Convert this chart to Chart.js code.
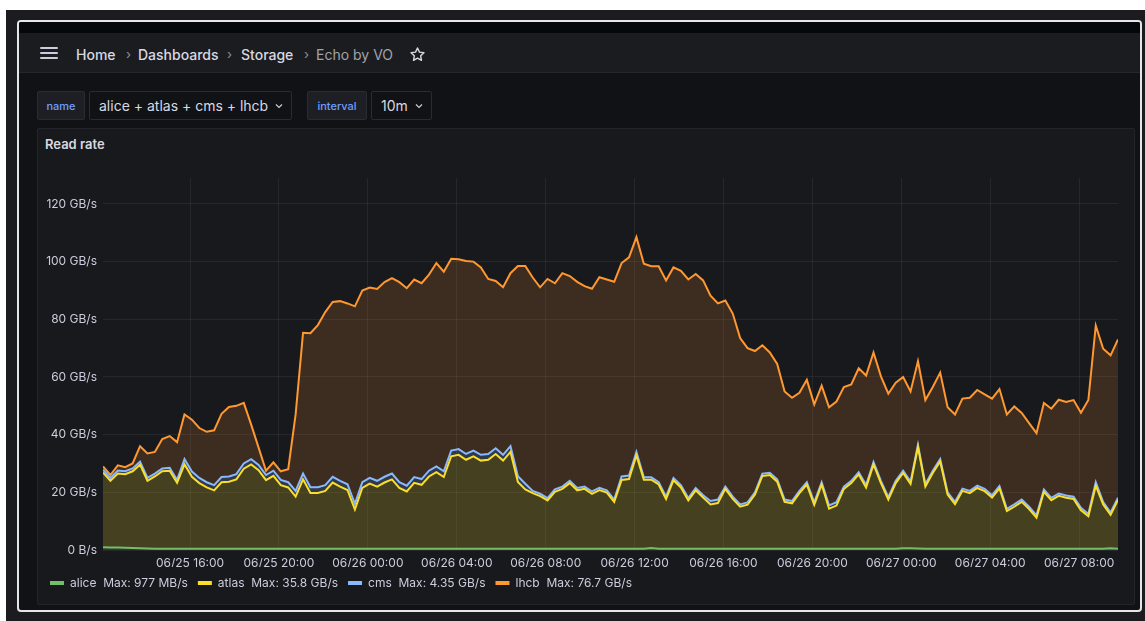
<!DOCTYPE html>
<html>
<head>
<meta charset="utf-8">
<script src="https://cdn.jsdelivr.net/npm/chart.js@4.4.1/dist/chart.umd.min.js"></script>
<style>
  body { margin: 0; width: 1145px; height: 621px; overflow: hidden; background: #fff; font-family: Inter, "Noto Sans", sans-serif; }
  .outer { position: absolute; left: 6px; top: 10px; right: 0; bottom: 0; background: #1c1c20; }
  .frame { position: absolute; left: 17px; top: 20px; width: 1121px; height: 588px; border: 2px solid #e6e6e6; border-radius: 4px; background: #111216; overflow: hidden; }
  .strip { position: absolute; left: 0; top: 0; right: 0; height: 11px; background: #060708; }
  .bar { position: absolute; left: 0; top: 11px; right: 0; height: 39px; background: #1b1c20; border-bottom: 1px solid #26272c; }
  .abs { position: absolute; }
  .crumb { position: absolute; top: 24px; font-size: 14px; color: #d8d9e0; font-weight: 500; }
  .sep { position: absolute; top: 24px; color: #8e8f98; font-size: 13px; }
  .dim { color: #a2a3ab; font-weight: 400; }
  .burger span { position: absolute; left: 0; width: 18px; height: 2px; background: #ccccdc; border-radius: 1px; }
  .var { position: absolute; top: 69px; height: 29px; border: 1px solid #2b2c31; border-radius: 2px; display: flex; align-items: center; box-sizing: border-box; }
  .lbl { background: #1e1f24; color: #6e9fff; font-size: 11px; font-weight: 500; justify-content: center; }
  .val { background: #111216; color: #d8d9e0; font-size: 14px; padding-left: 9px; }
  .panel { position: absolute; left: 18px; top: 106px; width: 1096px; height: 475px; background: #18191d; border: 1px solid #24252a; border-radius: 2px; }
  .title { position: absolute; left: 7px; top: 7px; font-size: 13px; font-weight: 600; color: #d8d9e0; }
  #wrap { position: absolute; left: 40px; top: 160px; width: 1090px; height: 439px; }
</style>
</head>
<body>
<div class="outer"></div>
<div class="frame">
  <div class="strip"></div>
  <div class="bar"></div>
  <div class="abs burger" style="left:21px;top:25px;width:18px;height:12px;">
    <span style="top:0"></span><span style="top:5px"></span><span style="top:10px"></span>
  </div>
  <div class="crumb" style="left:57px;">Home</div>
  <div class="sep" style="left:107px;">›</div>
  <div class="crumb" style="left:119px;">Dashboards</div>
  <div class="sep" style="left:208px;">›</div>
  <div class="crumb" style="left:222px;">Storage</div>
  <div class="sep" style="left:285px;">›</div>
  <div class="crumb dim" style="left:297px;">Echo by VO</div>
  <svg class="abs" style="left:390px;top:24px" width="17" height="17" viewBox="0 0 24 24">
    <path d="M12 2.8l2.8 5.8 6.3.9-4.6 4.4 1.1 6.3L12 17.2l-5.6 3 1.1-6.3-4.6-4.4 6.3-.9z" fill="none" stroke="#d8d9e0" stroke-width="2" stroke-linejoin="round"/>
  </svg>
  <div class="var lbl" style="left:18px;width:48px;">name</div>
  <div class="var val" style="left:70px;width:203px;">alice + atlas + cms + lhcb
    <svg style="margin-left:7px" width="8" height="6" viewBox="0 0 8 6"><path d="M1 1.5l3 3 3-3" fill="none" stroke="#ccccdc" stroke-width="1.2"/></svg></div>
  <div class="var lbl" style="left:288px;width:60px;">interval</div>
  <div class="var val" style="left:352px;width:61px;">10m
    <svg style="margin-left:7px" width="8" height="6" viewBox="0 0 8 6"><path d="M1 1.5l3 3 3-3" fill="none" stroke="#ccccdc" stroke-width="1.2"/></svg></div>
  <div class="panel"><div class="title">Read rate</div></div>
</div>
<div id="wrap"><canvas id="readRate"></canvas></div>

<script>
// 20 minute samples starting 06/25 12:05, values in GB/s
var stepMinutes = 20;
var seriesNames = ['alice', 'atlas', 'cms', 'lhcb'];
var legendMax = ['977 MB/s', '35.8 GB/s', '4.35 GB/s', '76.7 GB/s'];
var seriesColors = ['#73bf69', '#fade2a', '#8ab8ff', '#ff9830'];
var fillColors = ['rgba(115,191,105,0.2)', 'rgba(250,222,42,0.2)', 'rgba(138,184,255,0.2)', 'rgba(255,152,48,0.16)'];

var alice = [
  0.95, 0.9, 0.85, 0.8, 0.7, 0.6, 0.5, 0.4, 0.4, 0.4,
  0.4, 0.4, 0.4, 0.4, 0.4, 0.4, 0.4, 0.4, 0.4, 0.4,
  0.4, 0.4, 0.4, 0.4, 0.4, 0.4, 0.4, 0.4, 0.4, 0.4,
  0.4, 0.4, 0.4, 0.4, 0.4, 0.4, 0.4, 0.4, 0.4, 0.4,
  0.4, 0.4, 0.4, 0.4, 0.4, 0.4, 0.4, 0.4, 0.4, 0.4,
  0.4, 0.4, 0.4, 0.4, 0.4, 0.4, 0.4, 0.4, 0.4, 0.4,
  0.4, 0.4, 0.4, 0.4, 0.4, 0.4, 0.4, 0.4, 0.4, 0.4,
  0.4, 0.4, 0.4, 0.4, 0.7, 0.4, 0.4, 0.4, 0.4, 0.4,
  0.4, 0.4, 0.4, 0.4, 0.4, 0.4, 0.4, 0.4, 0.4, 0.4,
  0.4, 0.4, 0.4, 0.4, 0.4, 0.4, 0.4, 0.4, 0.4, 0.4,
  0.4, 0.4, 0.4, 0.4, 0.4, 0.4, 0.4, 0.4, 0.6, 0.6,
  0.5, 0.4, 0.4, 0.4, 0.4, 0.4, 0.4, 0.4, 0.4, 0.4,
  0.4, 0.4, 0.4, 0.4, 0.4, 0.4, 0.4, 0.4, 0.4, 0.4,
  0.4, 0.4, 0.4, 0.4, 0.4, 0.4, 0.6, 0.4
];

var atlas = [
  25.9, 23.1, 25.7, 25.5, 26.6, 29.0, 23.5, 25.1, 26.9, 27.1,
  22.9, 29.3, 25.0, 22.8, 21.3, 20.3, 23.1, 23.3, 24.1, 27.8,
  29.3, 27.3, 23.8, 25.3, 22.1, 21.3, 18.1, 24.1, 19.4, 19.4,
  20.1, 23.0, 21.6, 20.4, 13.6, 21.1, 22.6, 21.6, 23.0, 24.1,
  21.1, 19.9, 22.9, 22.2, 25.1, 26.6, 24.9, 32.1, 32.6, 30.9,
  32.1, 30.6, 30.9, 32.9, 30.6, 33.6, 23.2, 20.6, 19.3, 18.3,
  16.8, 19.8, 20.8, 22.8, 20.3, 20.8, 19.1, 20.4, 19.5, 16.3,
  23.9, 24.2, 32.4, 24.0, 23.7, 22.3, 17.3, 23.8, 21.3, 16.8,
  20.3, 17.8, 15.4, 15.9, 20.8, 17.3, 14.6, 15.3, 18.8, 25.3,
  25.6, 23.3, 16.3, 15.8, 19.3, 22.3, 15.3, 22.3, 13.9, 15.0,
  20.8, 22.8, 25.8, 21.3, 29.3, 22.8, 17.1, 22.8, 26.1, 22.3,
  35.2, 21.6, 26.3, 30.3, 18.8, 15.5, 20.1, 19.3, 21.1, 20.0,
  17.8, 21.0, 13.1, 14.6, 16.3, 13.8, 10.8, 19.8, 16.9, 18.4,
  17.7, 17.3, 13.4, 11.3, 21.9, 15.4, 11.6, 16.9
];

var cms = [
  1.0, 1.0, 1.0, 1.0, 1.0, 1.0, 1.0, 1.0, 1.0, 1.0,
  1.0, 1.8, 1.8, 1.8, 1.8, 1.8, 1.8, 1.8, 1.8, 1.8,
  1.8, 1.8, 1.8, 1.8, 1.8, 1.8, 2.0, 2.0, 2.0, 2.0,
  2.0, 2.0, 2.0, 2.0, 2.0, 2.0, 2.0, 2.0, 2.0, 2.0,
  2.0, 2.0, 2.0, 2.0, 2.0, 2.0, 2.0, 2.0, 2.0, 2.0,
  2.0, 2.0, 2.0, 2.0, 2.0, 2.0, 2.0, 2.0, 0.8, 0.8,
  0.8, 0.8, 0.8, 0.8, 0.8, 0.8, 0.8, 0.8, 0.8, 0.8,
  1.2, 1.2, 1.2, 0.8, 0.8, 0.8, 0.8, 0.8, 0.8, 0.8,
  0.8, 0.8, 1.2, 1.2, 0.8, 0.8, 0.8, 0.8, 0.8, 0.8,
  0.8, 0.8, 0.8, 0.8, 0.8, 0.8, 0.8, 0.8, 1.2, 1.2,
  0.8, 0.8, 0.8, 0.8, 0.8, 0.8, 0.8, 0.8, 0.8, 0.8,
  0.8, 0.8, 0.8, 0.8, 0.8, 0.8, 0.8, 0.8, 0.8, 0.8,
  0.8, 0.8, 0.8, 0.8, 0.8, 0.8, 0.8, 0.8, 0.8, 0.8,
  0.8, 0.8, 0.8, 0.8, 1.2, 0.8, 0.8, 0.8
];

var lhcb = [
  1.1, 1.0, 1.8, 1.4, 1.7, 5.4, 8.5, 7.5, 10.2, 11.0,
  13.1, 15.5, 18.0, 17.3, 17.5, 19.0, 21.9, 24.1, 23.7, 21.0,
  12.0, 6.0, 1.5, 2.9, 3.0, 4.5, 26.5, 48.8, 53.4, 56.2,
  60.0, 60.6, 62.3, 62.7, 68.5, 66.5, 66.0, 66.5, 67.5, 67.8,
  69.4, 68.5, 68.5, 67.9, 68.0, 70.5, 69.2, 66.5, 65.8, 66.9,
  65.5, 65.0, 60.7, 58.0, 58.1, 60.0, 72.9, 75.5, 74.0, 71.6,
  76.0, 71.5, 74.0, 71.0, 71.5, 69.5, 70.3, 73.0, 73.1, 75.5,
  74.0, 75.7, 74.5, 74.1, 73.2, 74.9, 75.0, 73.0, 74.3, 75.8,
  74.2, 74.5, 71.2, 68.0, 64.5, 63.5, 57.7, 53.5, 49.0, 44.5,
  41.7, 40.0, 37.5, 35.8, 34.0, 35.5, 34.0, 33.5, 34.0, 34.9,
  34.5, 33.4, 36.0, 38.0, 38.0, 36.2, 35.9, 34.0, 32.5, 31.3,
  29.0, 29.2, 29.0, 30.0, 29.5, 30.3, 31.2, 32.3, 33.2, 32.8,
  33.5, 33.6, 32.7, 34.0, 30.0, 29.0, 28.5, 30.0, 30.9, 32.5,
  32.4, 33.5, 33.0, 39.5, 54.3, 53.2, 54.5, 54.9
];

// x ticks, minutes after 06/25 12:05
var xTickValues = [235, 475, 715, 955, 1195, 1435, 1675, 1915, 2155, 2395, 2635];
var xTickLabels = ['06/25 16:00', '06/25 20:00', '06/26 00:00', '06/26 04:00', '06/26 08:00', '06/26 12:00',
                   '06/26 16:00', '06/26 20:00', '06/27 00:00', '06/27 04:00', '06/27 08:00'];
var yTickValues = [0, 20, 40, 60, 80, 100, 120];

var allSeries = [alice, atlas, cms, lhcb];
var datasets = allSeries.map(function (values, s) {
    return {
        label: seriesNames[s] + '  Max: ' + legendMax[s],
        data: values.map(function (v, i) { return { x: i * stepMinutes, y: v }; }),
        borderColor: seriesColors[s],
        backgroundColor: fillColors[s],
        borderWidth: 2,
        pointRadius: 0,
        tension: 0,
        fill: s === 0 ? 'origin' : '-1'
    };
});

var gridColor = 'rgba(204, 204, 220, 0.08)';
var textColor = '#ccccdc';

var ctx = document.getElementById('readRate').getContext('2d');
var chart = new Chart(ctx, {
    type: 'line',
    data: { datasets: datasets },
    options: {
        responsive: true,
        maintainAspectRatio: false,
        animation: false,
        layout: { padding: { top: 18, right: 12, left: 0, bottom: 0 } },
        plugins: {
            tooltip: { enabled: false },
            legend: {
                position: 'bottom',
                align: 'start',
                labels: {
                    color: textColor,
                    font: { family: 'Inter', size: 12 },
                    boxWidth: 14,
                    boxHeight: 4,
                    useBorderRadius: true,
                    borderRadius: 2,
                    padding: 10,
                    generateLabels: function (chart) {
                        return chart.data.datasets.map(function (d, i) {
                            return {
                                text: d.label,
                                fillStyle: seriesColors[i],
                                strokeStyle: seriesColors[i],
                                lineWidth: 0,
                                fontColor: textColor,
                                datasetIndex: i
                            };
                        });
                    }
                }
            }
        },
        scales: {
            x: {
                type: 'linear',
                min: 0,
                max: (alice.length - 1) * stepMinutes,
                border: { display: false },
                grid: { color: gridColor, drawTicks: false },
                afterBuildTicks: function (scale) {
                    scale.ticks = xTickValues.map(function (v) { return { value: v }; });
                },
                afterFit: function (scale) { scale.height = 17; },
                ticks: {
                    color: textColor,
                    font: { family: 'Inter', size: 12 },
                    padding: 6,
                    autoSkip: false,
                    maxRotation: 0,
                    callback: function (value, index) { return xTickLabels[index]; }
                }
            },
            y: {
                stacked: true,
                min: 0,
                max: 129,
                border: { display: false },
                grid: { color: gridColor, drawTicks: false },
                afterBuildTicks: function (scale) {
                    scale.ticks = yTickValues.map(function (v) { return { value: v }; });
                },
                afterFit: function (scale) { scale.width = 63; },
                ticks: {
                    color: textColor,
                    font: { family: 'Inter', size: 12 },
                    padding: 6,
                    callback: function (value) { return value === 0 ? '0 B/s' : value + ' GB/s'; }
                }
            }
        }
    }
});
</script>
</body>
</html>
